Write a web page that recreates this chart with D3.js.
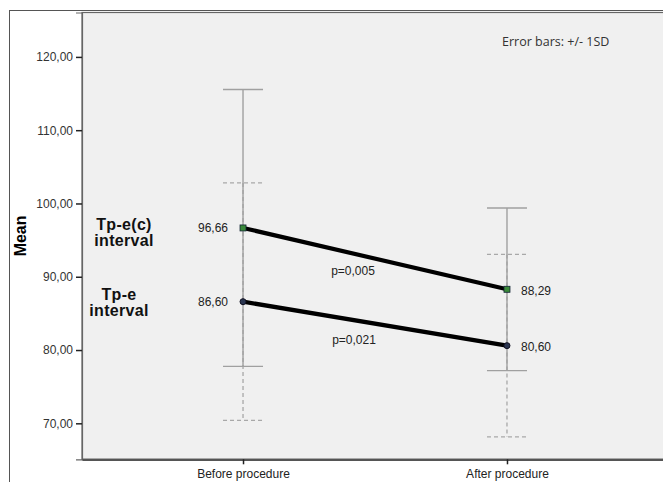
<!DOCTYPE html>
<html><head><meta charset="utf-8">
<script src="https://cdn.jsdelivr.net/npm/d3@7"></script>
<style>body{margin:0;background:#fff}svg{display:block}</style>
</head><body>
<script>
const categories = ["Before procedure", "After procedure"];
const seriesNames = ["Tp-e(c) interval", "Tp-e interval"];
const meansTpec = [96.66, 88.29];
const sdTpec = [18.89, 11.10];
const meansTpe = [86.60, 80.60];
const sdTpe = [16.20, 12.45];
const valueLabelsTpec = ["96,66", "88,29"];
const valueLabelsTpe = ["86,60", "80,60"];
const pValues = ["p=0,005", "p=0,021"];
const yTicks = [70, 80, 90, 100, 110, 120];

const W = 663, H = 482;
const M = {left: 82, top: 12.5, right: 668, bottom: 459.3};
const svg = d3.select("body").append("svg").attr("width", W).attr("height", H);

// outer frame
svg.append("rect").attr("x", 9.5).attr("y", 10.5).attr("width", 700).attr("height", 500)
  .attr("fill", "#fff").attr("stroke", "#555").attr("stroke-width", 1);
// plot area
svg.append("rect").attr("x", M.left).attr("y", M.top).attr("width", M.right - M.left).attr("height", M.bottom - M.top)
  .attr("fill", "#f0f0f0").attr("stroke", "#666").attr("stroke-width", 1.2);

const x = d3.scalePoint().domain(categories).range([M.left, M.right]).padding(0.61);
const y = d3.scaleLinear().domain([65.09, 126.06]).range([M.bottom, M.top]);

// y axis
const yAxis = svg.append("g").attr("transform", `translate(${M.left},0)`)
  .call(d3.axisLeft(y).tickValues(yTicks).tickSize(6).tickPadding(3)
  .tickFormat(d => d3.format(".2f")(d).replace(".", ",")));
yAxis.select(".domain").attr("stroke", "#666").attr("stroke-width", 1.2);
yAxis.selectAll(".tick line").attr("stroke", "#222").attr("stroke-width", 1.5);
yAxis.selectAll(".tick text").attr("font-family", "Liberation Sans, Arial, sans-serif").attr("font-size", 12).attr("fill", "#333");

// x axis
const xAxis = svg.append("g").attr("transform", `translate(0,${M.bottom})`)
  .call(d3.axisBottom(x).tickSize(5).tickPadding(5).tickSizeOuter(0));
xAxis.select(".domain").attr("stroke", "#555").attr("stroke-width", 2.2);
xAxis.selectAll(".tick line").attr("stroke", "#222").attr("stroke-width", 1.5);
xAxis.selectAll(".tick text").attr("font-family", "Liberation Sans, Arial, sans-serif").attr("font-size", 12).attr("fill", "#222");

// y title
svg.append("text").attr("transform", `translate(20,${(M.top + M.bottom) / 2}) rotate(-90)`)
  .attr("text-anchor", "middle").attr("dy", "0.35em")
  .attr("font-family", "Liberation Sans, Arial, sans-serif").attr("font-weight", "bold").attr("font-size", 16)
  .text("Mean");

const capW = 20;
function errorBars(means, sds, dashed) {
  const g = svg.append("g").attr("stroke", dashed ? "#a8a8a8" : "#a0a0a0")
    .attr("stroke-width", dashed ? 1.3 : 1.4).attr("fill", "none")
    .attr("stroke-dasharray", dashed ? "4,3" : null);
  categories.forEach((c, i) => {
    const cx = x(c), hi = y(means[i] + sds[i]), lo = y(means[i] - sds[i]);
    g.append("line").attr("x1", cx).attr("x2", cx).attr("y1", hi).attr("y2", lo);
    g.append("line").attr("x1", cx - capW).attr("x2", cx + capW).attr("y1", hi).attr("y2", hi);
    g.append("line").attr("x1", cx - capW).attr("x2", cx + capW).attr("y1", lo).attr("y2", lo);
  });
}
errorBars(meansTpe, sdTpe, true);
errorBars(meansTpec, sdTpec, false);

const line = d3.line().x((d, i) => x(categories[i])).y(d => y(d));
[meansTpec, meansTpe].forEach(m => {
  svg.append("path").datum(m).attr("d", line).attr("fill", "none")
    .attr("stroke", "#000").attr("stroke-width", 4.2);
});

// markers
categories.forEach((c, i) => {
  svg.append("rect").attr("x", x(c) - 3).attr("y", y(meansTpec[i]) - 3).attr("width", 6).attr("height", 6)
    .attr("fill", "#3a8a3a").attr("stroke", "#123").attr("stroke-width", 0.8);
  svg.append("circle").attr("cx", x(c)).attr("cy", y(meansTpe[i])).attr("r", 3)
    .attr("fill", "#2a3550").attr("stroke", "#112");
});

const font = "Liberation Sans, Arial, sans-serif";
// value labels
[[meansTpec, valueLabelsTpec], [meansTpe, valueLabelsTpe]].forEach(([m, lab]) => {
  svg.append("text").attr("x", x(categories[0]) - 15).attr("y", y(m[0])).attr("dy", "0.35em")
    .attr("text-anchor", "end").attr("font-family", font).attr("font-size", 12).attr("fill", "#222").text(lab[0]);
  svg.append("text").attr("x", x(categories[1]) + 14).attr("y", y(m[1]) + 1.5).attr("dy", "0.35em")
    .attr("text-anchor", "start").attr("font-family", font).attr("font-size", 12).attr("fill", "#222").text(lab[1]);
});

// p-values
const midX = (x(categories[0]) + x(categories[1])) / 2;
svg.append("text").attr("x", midX - 22).attr("y", y((meansTpec[0] + meansTpec[1]) / 2) + 12).attr("dy", "0.35em")
  .attr("text-anchor", "middle").attr("font-family", font).attr("font-size", 12).attr("fill", "#222").text(pValues[0]);
svg.append("text").attr("x", midX - 21).attr("y", y((meansTpe[0] + meansTpe[1]) / 2) + 16).attr("dy", "0.35em")
  .attr("text-anchor", "middle").attr("font-family", font).attr("font-size", 12).attr("fill", "#222").text(pValues[1]);

// series labels
function seriesLabel(name, cx, y1) {
  const parts = name.split(" ");
  parts.forEach((p, k) => {
    svg.append("text").attr("x", cx).attr("y", y1 + k * 16).attr("dy", "0.35em")
      .attr("text-anchor", "middle").attr("font-family", font).attr("font-weight", "bold")
      .attr("font-size", 16).attr("fill", "#111").attr("letter-spacing", 0.3).text(p);
  });
}
seriesLabel(seriesNames[0], 124, y(meansTpec[0]) - 4);
seriesLabel(seriesNames[1], 119, y(meansTpe[0]) - 7);

// note
svg.append("text").attr("x", 502).attr("y", 42).attr("dy", "0.35em")
  .attr("font-family", "Open Sans, Noto Sans, sans-serif").attr("font-size", 12.5).attr("fill", "#333")
  .text("Error bars: +/- 1SD");
</script>
</body></html>
